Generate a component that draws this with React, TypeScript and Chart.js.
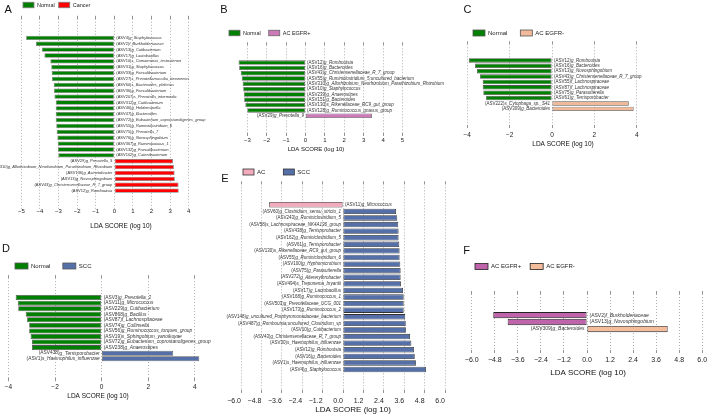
import React, { useEffect, useRef } from "react";
import { Chart, registerables } from "chart.js";

Chart.register(...registerables);

const FONT = "'Liberation Sans', Arial, Helvetica, sans-serif";
const PAGE_W = 713;
const PAGE_H = 419;

// ---------------- Panel A ----------------
const A_labels = [
  "(ASV4)g_Staphylococcus",
  "(ASV2)f_Burkholderiaceae",
  "(ASV13)g_Cutibacterium",
  "(ASV17)g_Lactobacillus",
  "(ASV10)s_Comamonas_testosteroni",
  "(ASV31)g_Staphylococcus",
  "(ASV33)g_Faecalibacterium",
  "(ASV27)s_Prevotellamassilia_timonensis",
  "(ASV60)s_Bacteroides_plebeius",
  "(ASV36)g_Faecalibacterium",
  "(ASV207)s_Prevotella_intermedia",
  "(ASV312)g_Cutibacterium",
  "(ASV46)g_Holdemanella",
  "(ASV47)g_Bacteroides",
  "(ASV72)g_Eubacterium_coprostanoligenes_group",
  "(ASV55)g_Ruminiclostridium_6",
  "(ASV75)g_Prevotella_7",
  "(ASV76)g_Novosphingobium",
  "(ASV367)g_Ruminococcus_1",
  "(ASV132)g_Faecalibacterium",
  "(ASV102)g_Catenibacterium",
  "(ASV29)g_Prevotella_9",
  "(ASV310)g_Allorhizobium_Neorhizobium_Pararhizobium_Rhizobium",
  "(ASV136)g_Acinetobacter",
  "(ASV13)g_Novosphingobium",
  "(ASV43)g_Christensenellaceae_R_7_group",
  "(ASV12)g_Romboutsia",
];
const A_values = [
  -4.74, -4.21, -3.9, -3.76, -3.44, -3.39, -3.37, -3.35, -3.26, -3.24, -3.22,
  -3.15, -3.15, -3.15, -3.15, -3.12, -3.1, -3.06, -3.04, -3.03, -3.01,
  3.15, 3.2, 3.24, 3.25, 3.45, 3.46,
];
const A_groups = ["Normal", "Cancer"];
const A_ticks = [-5, -4, -3, -2, -1, 0, 1, 2, 3, 4];

// ---------------- Panel B ----------------
const B_labels = [
  "(ASV12)g_Romboutsia",
  "(ASV16)g_Bacteroides",
  "(ASV43)g_Christensenellaceae_R_7_group",
  "(ASV55)g_Ruminiclostridium_5;uncultured_bacterium",
  "(ASV310)g_Allorhizobium_Neorhizobium_Pararhizobium_Rhizobium",
  "(ASV10)g_Staphylococcus",
  "(ASV239)g_Anaerostipes",
  "(ASV151)g_Bacteroides",
  "(ASV130)s_Rikenellaceae_RC9_gut_group",
  "(ASV128)g_Ruminococcus_gnavus_group",
  "(ASV29)g_Prevotella_9",
];
const B_values = [-3.45, -3.42, -3.34, -3.29, -3.24, -3.21, -3.18, -3.16, -3.1, -3.0, 3.43];
const B_groups = ["Normal", "AC EGFR+"];
const B_ticks = [-3, -2, -1, 0, 1, 2, 3, 4, 5];

// ---------------- Panel C ----------------
const C_labels = [
  "(ASV12)g_Romboutsia",
  "(ASV16)g_Bacteroides",
  "(ASV13)g_Novosphingobium",
  "(ASV43)g_Christensenellaceae_R_7_group",
  "(ASV55)f_Lachnospiraceae",
  "(ASV87)f_Lachnospiraceae",
  "(ASV75)g_Parasutterella",
  "(ASV61)g_Terrisporobacter",
  "(ASV222)s_Cytophaga_sp._S41",
  "(ASV309)g_Bacteroides",
];
const C_values = [-3.92, -3.63, -3.54, -3.4, -3.27, -3.27, -3.24, -3.11, 3.62, 3.85];
const C_groups = ["Normal", "AC EGFR-"];
const C_ticks = [-4, -2, 0, 2, 4];

// ---------------- Panel D ----------------
const D_labels = [
  "(ASV3)g_Prevotella_2",
  "(ASV11)g_Micrococcus",
  "(ASV229)g_Cutibacterium",
  "(ASV868)g_Bacillus",
  "(ASV87)f_Lachnospiraceae",
  "(ASV74)g_Collinsella",
  "(ASV56)g_Ruminococcus_torques_group",
  "(ASV19)s_Sphingobium_yanoikuyae",
  "(ASV72)g_Eubacterium_coprostanoligenes_group",
  "(ASV238)g_Anaerostipes",
  "(ASV438)g_Terrisporobacter",
  "(ASV1)s_Haemophilus_influenzae",
];
const D_values = [-3.69, -3.6, -3.58, -3.26, -3.2, -3.11, -3.11, -3.05, -2.99, -2.99, 3.07, 4.19];
const D_groups = ["Normal", "SCC"];
const D_ticks = [-4, -2, 0, 2, 4];

// ---------------- Panel E ----------------
const E_labels = [
  "(ASV11)g_Micrococcus",
  "(ASV60)g_Clostridium_sensu_stricto_1",
  "(ASV243)g_Ruminiclostridium_5",
  "(ASV58)s_Lachnospiraceae_NK4A136_group",
  "(ASV438)g_Terrisporobacter",
  "(ASV162)g_Ruminiclostridium_5",
  "(ASV61)g_Terrisporobacter",
  "(ASV130)s_Rikenellaceae_RC9_gut_group",
  "(ASV55)g_Ruminiclostridium_6",
  "(ASV100)g_Hyphomicrobium",
  "(ASV75)g_Parasutterella",
  "(ASV272)g_Altererythrobacter",
  "(ASV494)s_Treponema_bryantii",
  "(ASV17)g_Lactobacillus",
  "(ASV168)g_Ruminococcus_1",
  "(ASV503)g_Prevotellaceae_UCG_001",
  "(ASV173)g_Ruminococcus_2",
  "(ASV148)g_uncultured_Porphyromonadaceae_bacterium",
  "(ASV487)g_Romboutsia;uncultured_Clostridium_sp",
  "(ASV10)g_Cutibacterium",
  "(ASV43)g_Christensenellaceae_R_7_group",
  "(ASV30)s_Haemophilus_influenzae",
  "(ASV12)g_Romboutsia",
  "(ASV16)g_Bacteroides",
  "(ASV1)s_Haemophilus_influenzae",
  "(ASV4)g_Staphylococcus",
];
const E_values = [
  -4.34, 3.12, 3.19, 3.25, 3.27, 3.27, 3.31, 3.33, 3.33, 3.37, 3.39, 3.39, 3.41,
  3.53, 3.57, 3.57, 3.57, 3.66, 3.69, 3.7, 3.94, 4.02, 4.18, 4.22, 4.29, 4.88,
];
const E_groups = ["AC", "SCC"];
const E_ticks = [-6.0, -4.8, -3.6, -2.4, -1.2, 0.0, 1.2, 2.4, 3.6, 4.8, 6.0];

// ---------------- Panel F ----------------
const F_labels = [
  "(ASV2)f_Burkholderiaceae",
  "(ASV13)g_Novosphingobium",
  "(ASV309)g_Bacteroides",
];
const F_values = [-4.88, -4.13, 4.2];
const F_groups = ["AC EGFR+", "AC EGFR-"];
const F_ticks = [-6.0, -4.8, -3.6, -2.4, -1.2, 0.0, 1.2, 2.4, 3.6, 4.8, 6.0];

const AXIS_TITLE = "LDA SCORE (log 10)";

const fmtInt = (v: number) => (v < 0 ? "\u2212" : "") + String(Math.abs(Math.round(v)));
const fmtDec = (v: number) =>
  Math.abs(v) < 1e-9 ? "0.0" : (v < 0 ? "\u2212" : "") + Math.abs(v).toFixed(1);

type Panel = {
  letter: string;
  letterPos: [number, number];
  labels: string[];
  values: number[];
  groups: string[];
  colors: string[];
  border: string;
  borderWidth: number;
  ticks: number[];
  fmt: (v: number) => string;
  tickAlign: "center" | "end";
  x: [number, number];
  y: [number, number];
  area: [number, number, number, number]; // l, t, r, b
  bar: number;
  topTick: number;
  botTick: number;
  tickPad: number;
  tickFont: number;
  labelFont: number;
  labelGap: number;
  title: [number, number, number];
  legend: { x: number; y: number; fs: number; bw: number; bh: number; gap: number };
};

const PANELS: Panel[] = [
  {
    letter: "A", letterPos: [8.2, 9.7],
    labels: A_labels, values: A_values, groups: A_groups,
    colors: ["#008000", "#ff0000"], border: "#7a7a7a", borderWidth: 0.8,
    ticks: A_ticks, fmt: fmtInt, tickAlign: "center",
    x: [-5.35, 4.25], y: [-0.55, 26.35], area: [14.8, 18.8, 193.4, 208.5],
    bar: 5.3, topTick: 3, botTick: 0, tickPad: 0, tickFont: 6, labelFont: 4, labelGap: 2,
    title: [121, 226, 6.5],
    legend: { x: 23, y: 5, fs: 5.5, bw: 11, bh: 5.5, gap: 4 },
  },
  {
    letter: "B", letterPos: [224, 9],
    labels: B_labels, values: B_values, groups: B_groups,
    colors: ["#008000", "#cc7ab8"], border: "#666666", borderWidth: 0.8,
    ticks: B_ticks, fmt: fmtInt, tickAlign: "center",
    x: [-3.5, 5.3], y: [-0.5, 10.5], area: [237.6, 45.3, 408.3, 133],
    bar: 6.7, topTick: 3, botTick: 3, tickPad: 1.7, tickFont: 6, labelFont: 4.5, labelGap: 1.5,
    title: [316, 149.3, 6],
    legend: { x: 229, y: 33, fs: 5.5, bw: 11, bh: 5.5, gap: 8 },
  },
  {
    letter: "C", letterPos: [467.5, 9],
    labels: C_labels, values: C_values, groups: C_groups,
    colors: ["#008000", "#f0b999"], border: "#555555", borderWidth: 0.8,
    ticks: C_ticks, fmt: fmtInt, tickAlign: "center",
    x: [-4.1, 4.15], y: [-0.5, 9.5], area: [465.1, 44.3, 640, 125],
    bar: 6.7, topTick: 3, botTick: 3, tickPad: 4.4, tickFont: 6.5, labelFont: 4.5, labelGap: 2,
    title: [563, 144.3, 6.5],
    legend: { x: 473, y: 33, fs: 6, bw: 12, bh: 6, gap: 13 },
  },
  {
    letter: "D", letterPos: [6, 248],
    labels: D_labels, values: D_values, groups: D_groups,
    colors: ["#008000", "#5570a8"], border: "#555555", borderWidth: 0.8,
    ticks: D_ticks, fmt: fmtInt, tickAlign: "center",
    x: [-4.2, 4.35], y: [-0.5, 11.5], area: [3.8, 278.1, 203, 378.2],
    bar: 7.5, topTick: 3, botTick: 3, tickPad: 2.8, tickFont: 6.5, labelFont: 4.8, labelGap: 2,
    title: [98, 396, 6.5],
    legend: { x: 15, y: 266, fs: 6, bw: 13, bh: 6, gap: 12.5 },
  },
  {
    letter: "E", letterPos: [225, 178],
    labels: E_labels, values: E_values, groups: E_groups,
    colors: ["#f3aabd", "#5570a8"], border: "#333333", borderWidth: 0.8,
    ticks: E_ticks, fmt: fmtDec, tickAlign: "end",
    x: [-6.35, 6.35], y: [-0.5, 25.5], area: [235.05, 184.35, 450.95, 389.95],
    bar: 6.5, topTick: 3, botTick: 3, tickPad: 4.5, tickFont: 7, labelFont: 4.5, labelGap: 2,
    title: [353, 410, 8],
    legend: { x: 243, y: 172, fs: 6, bw: 11, bh: 6, gap: 18 },
  },
  {
    letter: "F", letterPos: [466.5, 250],
    labels: F_labels, values: F_values, groups: F_groups,
    colors: ["#bf63ab", "#f3bd9b"], border: "#222222", borderWidth: 0.9,
    ticks: F_ticks, fmt: fmtDec, tickAlign: "center",
    x: [-6.3, 6.3], y: [-1.03, 3.01], area: [466, 294, 708, 350],
    bar: 12.5, topTick: 3, botTick: 3, tickPad: 3.5, tickFont: 7, labelFont: 5, labelGap: 2.5,
    title: [588, 372.7, 8],
    legend: { x: 475, y: 266.5, fs: 6, bw: 13, bh: 6, gap: 9 },
  },
];

function makePlugin(p: Panel) {
  return {
    id: "lefseExtras",
    afterDatasetsDraw(chart: any) {
      const ctx: CanvasRenderingContext2D = chart.ctx;
      const xs = chart.scales.x;
      const ys = chart.scales.y;
      const zero = xs.getPixelForValue(0);
      ctx.save();
      ctx.textBaseline = "middle";
      ctx.textAlign = "left";
      // row labels
      p.labels.forEach((lab, i) => {
        const v = p.values[i];
        const y = ys.getPixelForValue(i);
        const m = lab.match(/^(\([^)]*\))(.*)$/);
        const pre = m ? m[1] : "";
        const rest = m ? m[2] : lab;
        const fN = `${p.labelFont}px ${FONT}`;
        const fI = `italic ${p.labelFont}px ${FONT}`;
        ctx.font = fN;
        const w1 = ctx.measureText(pre).width;
        ctx.font = fI;
        const w2 = ctx.measureText(rest).width;
        const x = v < 0 ? zero + p.labelGap : zero - p.labelGap - w1 - w2;
        ctx.fillStyle = "#333";
        ctx.font = fN;
        ctx.fillText(pre, x, y);
        ctx.font = fI;
        ctx.fillText(rest, x + w1, y);
      });
      // legend
      const L = p.legend;
      let lx = L.x;
      chart.data.datasets.forEach((ds: any) => {
        ctx.fillStyle = ds.backgroundColor;
        ctx.fillRect(lx, L.y - L.bh / 2, L.bw, L.bh);
        ctx.strokeStyle = ds.borderColor;
        ctx.lineWidth = 0.8;
        ctx.strokeRect(lx, L.y - L.bh / 2, L.bw, L.bh);
        ctx.fillStyle = "#222";
        ctx.font = `${L.fs}px ${FONT}`;
        ctx.fillText(ds.label, lx + L.bw + 3, L.y + 0.3);
        lx += L.bw + 3 + ctx.measureText(ds.label).width + L.gap;
      });
      // axis title
      ctx.font = `${p.title[2]}px ${FONT}`;
      ctx.textAlign = "center";
      ctx.fillStyle = "#111";
      ctx.fillText(AXIS_TITLE, p.title[0], p.title[1]);
      ctx.restore();
    },
  };
}

function buildConfig(p: Panel): any {
  const [l, t, r, b] = p.area;
  const band = (b - t) / (p.y[1] - p.y[0]);
  const ratio = p.bar / band;
  const axisH = p.botTick + p.tickPad + p.tickFont + 3;
  const neg = p.values.map((v, i) => ({ x: v, y: i })).filter((d) => d.x < 0);
  const pos = p.values.map((v, i) => ({ x: v, y: i })).filter((d) => d.x > 0);
  const dsBase = {
    borderWidth: p.borderWidth,
    borderColor: p.border,
    borderSkipped: false,
    grouped: false,
    categoryPercentage: 1,
    barPercentage: ratio,
  };
  const setTicks = (s: any) => {
    s.ticks = p.ticks.map((v) => ({ value: v }));
  };
  return {
    type: "bar",
    data: {
      datasets: [
        { ...dsBase, label: p.groups[0], data: neg, backgroundColor: p.colors[0] },
        { ...dsBase, label: p.groups[1], data: pos, backgroundColor: p.colors[1] },
      ],
    },
    options: {
      indexAxis: "y",
      animation: false,
      responsive: false,
      events: [],
      layout: {
        padding: { left: l, top: t, right: PAGE_W - r, bottom: PAGE_H - b - axisH },
      },
      plugins: { legend: { display: false }, tooltip: { enabled: false }, title: { display: false } },
      scales: {
        x: {
          type: "linear",
          position: "bottom",
          min: p.x[0],
          max: p.x[1],
          afterBuildTicks: setTicks,
          afterFit: (s: any) => {
            s.height = axisH;
          },
          grid: {
            color: "#9a9a9a",
            lineWidth: 0.8,
            drawTicks: p.botTick > 0,
            tickLength: p.botTick,
            tickColor: "#777",
            tickWidth: 0.8,
            tickBorderDash: [],
          },
          border: { display: false, dash: [1, 2] },
          ticks: {
            autoSkip: false,
            maxRotation: 0,
            align: p.tickAlign,
            padding: p.tickPad,
            color: "#222",
            font: { size: p.tickFont, family: FONT, lineHeight: 1 },
            callback: (v: any) => p.fmt(Number(v)),
          },
        },
        xt: {
          type: "linear",
          position: "top",
          min: p.x[0],
          max: p.x[1],
          afterBuildTicks: setTicks,
          afterFit: (s: any) => {
            s.height = 0;
          },
          grid: {
            drawOnChartArea: false,
            drawTicks: true,
            tickLength: p.topTick,
            tickColor: "#777",
            tickWidth: 0.8,
            tickBorderDash: [],
          },
          border: { display: false },
          ticks: { display: false },
        },
        y: {
          type: "linear",
          display: false,
          reverse: true,
          min: p.y[0],
          max: p.y[1],
        },
      },
    },
    plugins: [makePlugin(p)],
  };
}

function PanelChart({ panel }: { panel: Panel }) {
  const ref = useRef<HTMLCanvasElement | null>(null);
  useEffect(() => {
    if (!ref.current) return;
    const chart = new Chart(ref.current, buildConfig(panel));
    return () => chart.destroy();
  }, [panel]);
  return (
    <canvas
      ref={ref}
      width={PAGE_W}
      height={PAGE_H}
      style={{ position: "absolute", left: 0, top: 0, width: PAGE_W, height: PAGE_H }}
    />
  );
}

export default function App() {
  Chart.defaults.font.family = FONT;
  return (
    <div
      style={{
        position: "absolute",
        left: 0,
        top: 0,
        width: PAGE_W,
        height: PAGE_H,
        background: "#ffffff",
        overflow: "hidden",
        fontFamily: FONT,
      }}
    >
      {PANELS.map((p) => (
        <PanelChart key={p.letter} panel={p} />
      ))}
      {PANELS.map((p) => (
        <div
          key={"L" + p.letter}
          style={{
            position: "absolute",
            left: p.letterPos[0],
            top: p.letterPos[1] - 5.4,
            transform: "translateX(-50%)",
            fontSize: 11,
            lineHeight: "11px",
            color: "#111",
            fontFamily: FONT,
          }}
        >
          {p.letter}
        </div>
      ))}
    </div>
  );
}
